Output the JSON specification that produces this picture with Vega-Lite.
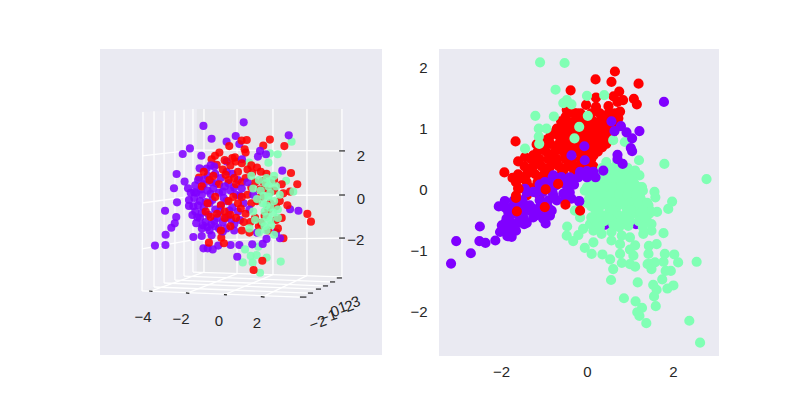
{"$schema":"https://vega.github.io/schema/vega-lite/v6.json","background":"#ffffff","padding":{"left":100,"top":49,"right":0,"bottom":0},"spacing":27,"config":{"view":{"stroke":null,"fill":"#eaeaf2"},"font":"Liberation Sans"},
"datasets":{
"left3d":[{"u":-0.82,"v":3.48,"c":"A"},{"u":1.3,"v":3.65,"c":"A"},{"u":-0.39,"v":2.87,"c":"A"},{"u":0.88,"v":3.0,"c":"A"},{"u":0.4,"v":2.73,"c":"A"},{"u":1.07,"v":2.62,"c":"A"},{"u":3.82,"v":2.73,"c":"B"},{"u":3.67,"v":3.03,"c":"A"},{"u":-1.53,"v":2.41,"c":"A"},{"u":-1.91,"v":2.14,"c":"A"},{"u":-0.93,"v":2.06,"c":"A"},{"u":0.54,"v":2.52,"c":"C"},{"u":1.19,"v":2.78,"c":"C"},{"u":1.46,"v":2.81,"c":"C"},{"u":2.68,"v":2.83,"c":"C"},{"u":2.33,"v":2.54,"c":"C"},{"u":3.44,"v":2.52,"c":"C"},{"u":1.35,"v":2.37,"c":"C"},{"u":1.4,"v":2.21,"c":"C"},{"u":0.02,"v":2.21,"c":"C"},{"u":-0.21,"v":2.06,"c":"C"},{"u":-0.39,"v":1.89,"c":"C"},{"u":0.84,"v":1.98,"c":"C"},{"u":0.88,"v":1.78,"c":"C"},{"u":-0.12,"v":1.63,"c":"C"},{"u":3.09,"v":2.13,"c":"B"},{"u":2.68,"v":2.17,"c":"B"},{"u":1.58,"v":1.73,"c":"B"},{"u":2.6,"v":1.73,"c":"B"},{"u":2.16,"v":2.29,"c":"A"},{"u":2.05,"v":2.02,"c":"A"},{"u":2.47,"v":2.13,"c":"A"},{"u":1.21,"v":1.89,"c":"A"},{"u":-0.44,"v":1.6,"c":"A"},{"u":-1.02,"v":1.46,"c":"A"},{"u":0.4,"v":1.78,"c":"A"},{"u":-2.23,"v":1.19,"c":"A"},{"u":-1.81,"v":0.83,"c":"A"},{"u":-2.37,"v":0.51,"c":"A"},{"u":-1.63,"v":0.51,"c":"A"},{"u":-1.49,"v":0.3,"c":"A"},{"u":-1.3,"v":0.32,"c":"A"},{"u":-2.21,"v":-0.16,"c":"A"},{"u":-1.58,"v":-0.05,"c":"A"},{"u":-1.58,"v":-0.33,"c":"A"},{"u":-2.84,"v":-0.56,"c":"A"},{"u":-2.25,"v":-0.86,"c":"A"},{"u":-2.33,"v":-1.16,"c":"A"},{"u":-2.51,"v":-1.37,"c":"A"},{"u":-2.81,"v":-1.7,"c":"A"},{"u":-3.37,"v":-2.22,"c":"A"},{"u":-2.82,"v":-2.19,"c":"A"},{"u":-1.35,"v":-1.81,"c":"A"},{"u":-0.91,"v":-1.76,"c":"A"},{"u":-0.39,"v":-1.73,"c":"A"},{"u":-0.82,"v":-2.35,"c":"A"},{"u":-0.6,"v":-2.35,"c":"A"},{"u":-0.33,"v":-2.4,"c":"A"},{"u":-0.04,"v":-2.22,"c":"A"},{"u":0.61,"v":-2.19,"c":"A"},{"u":1.07,"v":-2.19,"c":"A"},{"u":-1.4,"v":-0.76,"c":"A"},{"u":-1.14,"v":-0.87,"c":"A"},{"u":-1.05,"v":1.02,"c":"C"},{"u":3.79,"v":1.24,"c":"C"},{"u":4.12,"v":0.7,"c":"C"},{"u":3.74,"v":0.35,"c":"C"},{"u":3.39,"v":0.27,"c":"C"},{"u":4.65,"v":-0.71,"c":"C"},{"u":4.84,"v":-1.08,"c":"C"},{"u":3.39,"v":-1.87,"c":"C"},{"u":-0.53,"v":-2.08,"c":"C"},{"u":0.12,"v":-1.84,"c":"C"},{"u":0.26,"v":-2.11,"c":"C"},{"u":1.25,"v":-3.02,"c":"B"},{"u":1.77,"v":-3.02,"c":"B"},{"u":1.67,"v":-2.71,"c":"B"},{"u":1.37,"v":-2.4,"c":"B"},{"u":1.98,"v":-2.67,"c":"B"},{"u":2.51,"v":-2.79,"c":"B"},{"u":3.25,"v":-2.98,"c":"B"},{"u":2.16,"v":-3.51,"c":"B"},{"u":2.07,"v":-2.27,"c":"B"},{"u":3.53,"v":0.87,"c":"B"},{"u":3.91,"v":0.35,"c":"B"},{"u":2.28,"v":-2.94,"c":"C"},{"u":1.82,"v":-3.38,"c":"C"},{"u":0.96,"v":-2.75,"c":"A"},{"u":1.75,"v":-2.16,"c":"A"},{"u":2.3,"v":-2.14,"c":"A"},{"u":3.21,"v":-1.87,"c":"A"},{"u":3.74,"v":-0.49,"c":"A"},{"u":4.18,"v":-0.56,"c":"A"},{"u":3.33,"v":1.35,"c":"A"},
{"u":-1.1,"v":0.9,"c":"A"},{"u":-0.8,"v":0.7,"c":"A"},{"u":-0.6,"v":1.1,"c":"A"},{"u":-0.4,"v":0.8,"c":"A"},{"u":-0.2,"v":1.2,"c":"A"},{"u":0.1,"v":1.0,"c":"A"},{"u":0.4,"v":1.3,"c":"A"},{"u":0.7,"v":1.2,"c":"A"},{"u":1.0,"v":0.9,"c":"A"},{"u":-1.25,"v":0.65,"c":"A"},{"u":-0.95,"v":0.45,"c":"A"},{"u":-0.75,"v":0.95,"c":"A"},{"u":-0.45,"v":0.25,"c":"A"},{"u":-0.15,"v":0.75,"c":"A"},{"u":0.2,"v":0.35,"c":"A"},{"u":0.5,"v":0.75,"c":"A"},{"u":0.8,"v":0.55,"c":"A"},{"u":1.1,"v":0.15,"c":"A"},{"u":-0.65,"v":1.45,"c":"A"},{"u":-0.25,"v":1.55,"c":"A"},{"u":-0.8,"v":1.3,"c":"C"},{"u":-0.3,"v":1.1,"c":"C"},{"u":0.2,"v":1.4,"c":"C"},{"u":0.6,"v":1.6,"c":"C"},{"u":1.0,"v":1.3,"c":"C"},{"u":1.5,"v":1.4,"c":"C"},{"u":2.0,"v":1.5,"c":"C"},{"u":2.5,"v":1.2,"c":"C"},{"u":2.9,"v":0.9,"c":"C"},{"u":0.3,"v":1.85,"c":"C"},{"u":0.7,"v":1.95,"c":"C"},{"u":1.2,"v":1.7,"c":"C"},{"u":1.7,"v":1.6,"c":"C"},{"u":2.2,"v":1.3,"c":"C"},{"u":0.35,"v":1.15,"c":"C"},{"u":0.8,"v":1.0,"c":"C"},{"u":1.75,"v":1.25,"c":"C"},{"u":2.3,"v":0.85,"c":"C"},{"u":-0.9,"v":0.6,"c":"C"},{"u":-0.5,"v":0.9,"c":"C"},{"u":0.0,"v":0.7,"c":"C"},{"u":0.5,"v":0.9,"c":"C"},{"u":0.9,"v":0.7,"c":"C"},{"u":1.4,"v":1.0,"c":"C"},{"u":1.9,"v":0.8,"c":"C"},{"u":2.4,"v":0.5,"c":"C"},{"u":2.9,"v":0.4,"c":"C"},{"u":3.3,"v":0.7,"c":"C"},{"u":1.2,"v":0.8,"c":"C"},{"u":1.7,"v":0.55,"c":"C"},{"u":2.15,"v":0.45,"c":"C"},{"u":2.7,"v":0.35,"c":"C"},{"u":-1.2,"v":0.3,"c":"A"},{"u":-0.9,"v":0.2,"c":"A"},{"u":-0.6,"v":0.4,"c":"A"},{"u":-0.3,"v":0.5,"c":"A"},{"u":0.0,"v":0.3,"c":"A"},{"u":0.3,"v":0.6,"c":"A"},{"u":0.6,"v":0.4,"c":"A"},{"u":0.9,"v":0.2,"c":"A"},{"u":1.2,"v":0.5,"c":"A"},{"u":-1.1,"v":-0.3,"c":"A"},{"u":-0.8,"v":-0.4,"c":"A"},{"u":-0.5,"v":-0.2,"c":"A"},{"u":-0.2,"v":-0.5,"c":"A"},{"u":0.1,"v":-0.3,"c":"A"},{"u":0.4,"v":-0.1,"c":"A"},{"u":0.7,"v":-0.4,"c":"A"},{"u":1.0,"v":-0.6,"c":"A"},{"u":1.3,"v":-0.2,"c":"A"},{"u":-1.0,"v":-0.1,"c":"A"},{"u":-0.7,"v":-0.15,"c":"A"},{"u":-0.35,"v":-0.05,"c":"A"},{"u":0.25,"v":0.05,"c":"A"},{"u":0.55,"v":-0.55,"c":"A"},{"u":-1.3,"v":0.05,"c":"A"},{"u":-1.35,"v":-0.35,"c":"A"},{"u":-0.6,"v":-0.2,"c":"C"},{"u":-0.2,"v":0.1,"c":"C"},{"u":0.1,"v":-0.3,"c":"C"},{"u":0.5,"v":-0.1,"c":"C"},{"u":1.0,"v":-0.2,"c":"C"},{"u":1.5,"v":0.2,"c":"C"},{"u":2.0,"v":-0.1,"c":"C"},{"u":2.7,"v":-0.2,"c":"C"},{"u":3.2,"v":-0.1,"c":"C"},{"u":3.6,"v":-0.3,"c":"C"},{"u":0.75,"v":0.1,"c":"C"},{"u":1.2,"v":0.1,"c":"C"},{"u":1.7,"v":-0.2,"c":"C"},{"u":2.2,"v":0.1,"c":"C"},{"u":2.6,"v":-0.5,"c":"C"},{"u":3.0,"v":-0.35,"c":"C"},{"u":-1.0,"v":-0.9,"c":"A"},{"u":-0.7,"v":-1.1,"c":"A"},{"u":-0.4,"v":-1.2,"c":"A"},{"u":-0.1,"v":-0.9,"c":"A"},{"u":0.2,"v":-1.1,"c":"A"},{"u":0.5,"v":-0.8,"c":"A"},{"u":0.8,"v":-1.2,"c":"A"},{"u":1.1,"v":-1.0,"c":"A"},{"u":1.6,"v":-0.5,"c":"A"},{"u":-1.25,"v":-0.6,"c":"A"},{"u":-0.9,"v":-0.65,"c":"A"},{"u":-0.55,"v":-0.75,"c":"A"},{"u":-0.25,"v":-1.05,"c":"A"},{"u":0.05,"v":-0.6,"c":"A"},{"u":0.35,"v":-0.9,"c":"A"},{"u":0.65,"v":-1.0,"c":"A"},{"u":-1.2,"v":-1.15,"c":"A"},{"u":-0.85,"v":-1.25,"c":"A"},{"u":-0.6,"v":-1.35,"c":"A"},{"u":-0.2,"v":-1.3,"c":"A"},{"u":0.2,"v":-1.55,"c":"A"},{"u":-0.7,"v":-0.6,"c":"C"},{"u":-0.1,"v":-0.7,"c":"C"},{"u":0.3,"v":-0.6,"c":"C"},{"u":0.9,"v":-0.9,"c":"C"},{"u":1.4,"v":-0.7,"c":"C"},{"u":1.9,"v":-0.9,"c":"C"},{"u":2.4,"v":-0.8,"c":"C"},{"u":3.0,"v":-1.0,"c":"C"},{"u":3.3,"v":-0.9,"c":"C"},{"u":0.6,"v":-0.75,"c":"C"},{"u":1.15,"v":-0.45,"c":"C"},{"u":1.65,"v":-1.1,"c":"C"},{"u":2.2,"v":-1.15,"c":"C"},{"u":-0.45,"v":-0.85,"c":"C"},{"u":0.3,"v":-0.9,"c":"C"},{"u":-0.9,"v":-1.4,"c":"A"},{"u":-0.5,"v":-1.5,"c":"A"},{"u":0.0,"v":-1.4,"c":"A"},{"u":0.4,"v":-1.4,"c":"A"},{"u":0.8,"v":-1.5,"c":"A"},{"u":1.5,"v":0.8,"c":"A"},{"u":1.8,"v":0.2,"c":"A"},{"u":2.0,"v":-1.6,"c":"A"},{"u":2.5,"v":-1.9,"c":"A"},{"u":3.0,"v":-1.6,"c":"A"},{"u":0.6,"v":-1.3,"c":"C"},{"u":1.2,"v":-1.5,"c":"C"},{"u":1.6,"v":-1.6,"c":"C"},{"u":2.1,"v":-1.3,"c":"C"},{"u":2.6,"v":-1.5,"c":"C"},{"u":3.1,"v":-1.4,"c":"C"},{"u":1.3,"v":-1.1,"c":"C"},{"u":0.1,"v":-1.5,"c":"C"},{"u":1.7,"v":1.1,"c":"B"},{"u":2.1,"v":0.9,"c":"B"},{"u":2.5,"v":1.0,"c":"B"},{"u":2.9,"v":1.1,"c":"B"},{"u":3.2,"v":0.2,"c":"B"},{"u":1.8,"v":0.5,"c":"B"},{"u":2.2,"v":0.4,"c":"B"},{"u":2.6,"v":0.6,"c":"B"},{"u":3.0,"v":0.6,"c":"B"},{"u":2.0,"v":0.0,"c":"B"},{"u":2.3,"v":-0.2,"c":"B"},{"u":2.6,"v":0.1,"c":"B"},{"u":2.9,"v":-0.1,"c":"B"},{"u":2.7,"v":-0.4,"c":"B"},{"u":3.1,"v":-0.5,"c":"B"},{"u":2.4,"v":-0.6,"c":"B"},{"u":1.9,"v":-1.0,"c":"B"},{"u":2.3,"v":-1.1,"c":"B"},{"u":2.7,"v":-1.0,"c":"B"},{"u":3.1,"v":-0.9,"c":"B"},{"u":2.5,"v":-1.5,"c":"B"},{"u":2.1,"v":-1.6,"c":"B"},{"u":1.6,"v":-1.4,"c":"B"},{"u":2.9,"v":-1.7,"c":"B"},{"u":2.45,"v":0.75,"c":"B"},{"u":2.75,"v":0.85,"c":"B"},{"u":2.35,"v":0.15,"c":"B"},{"u":2.7,"v":0.3,"c":"B"},{"u":2.5,"v":-0.3,"c":"B"},{"u":2.85,"v":-0.65,"c":"B"},{"u":2.5,"v":-0.85,"c":"B"},{"u":2.75,"v":-1.25,"c":"B"},{"u":2.4,"v":-1.3,"c":"B"},{"u":1.8,"v":-0.6,"c":"B"}],
"right2d":[{"x":0.43,"y":-0.58,"c":"A"},{"x":1.14,"y":-0.57,"c":"A"},
{"x":-0.45,"y":1.25,"c":"C"},{"x":-0.3,"y":1.25,"c":"C"},{"x":-0.15,"y":1.25,"c":"C"},{"x":0.1,"y":1.25,"c":"C"},{"x":0.3,"y":1.25,"c":"C"},{"x":0.5,"y":1.25,"c":"C"},{"x":0.65,"y":1.25,"c":"C"},{"x":-0.6,"y":1.12,"c":"C"},{"x":-0.45,"y":1.12,"c":"C"},{"x":-0.3,"y":1.12,"c":"C"},{"x":-0.15,"y":1.12,"c":"C"},{"x":0.0,"y":1.12,"c":"C"},{"x":0.15,"y":1.12,"c":"C"},{"x":0.3,"y":1.12,"c":"C"},{"x":0.45,"y":1.12,"c":"C"},{"x":0.6,"y":1.12,"c":"C"},{"x":-0.7,"y":1.0,"c":"C"},{"x":-0.55,"y":1.0,"c":"C"},{"x":-0.4,"y":1.0,"c":"C"},{"x":-0.25,"y":1.0,"c":"C"},{"x":0.05,"y":1.0,"c":"C"},{"x":0.2,"y":1.0,"c":"C"},{"x":0.35,"y":1.0,"c":"C"},{"x":0.5,"y":1.0,"c":"C"},{"x":0.65,"y":1.0,"c":"C"},{"x":-0.85,"y":0.88,"c":"C"},{"x":-0.65,"y":0.88,"c":"C"},{"x":-0.5,"y":0.88,"c":"C"},{"x":-0.35,"y":0.88,"c":"C"},{"x":-0.05,"y":0.88,"c":"C"},{"x":0.1,"y":0.88,"c":"C"},{"x":0.25,"y":0.88,"c":"C"},{"x":0.4,"y":0.88,"c":"C"},{"x":0.55,"y":0.88,"c":"C"},{"x":-1.05,"y":0.75,"c":"C"},{"x":-0.85,"y":0.75,"c":"C"},{"x":-0.65,"y":0.75,"c":"C"},{"x":-0.5,"y":0.75,"c":"C"},{"x":-0.35,"y":0.75,"c":"C"},{"x":-0.15,"y":0.75,"c":"C"},{"x":0.0,"y":0.75,"c":"C"},{"x":0.15,"y":0.75,"c":"C"},{"x":0.3,"y":0.75,"c":"C"},{"x":0.45,"y":0.75,"c":"C"},{"x":-1.15,"y":0.62,"c":"C"},{"x":-0.95,"y":0.62,"c":"C"},{"x":-0.75,"y":0.62,"c":"C"},{"x":-0.55,"y":0.62,"c":"C"},{"x":-0.4,"y":0.62,"c":"C"},{"x":-0.2,"y":0.62,"c":"C"},{"x":0.05,"y":0.62,"c":"C"},{"x":0.25,"y":0.62,"c":"C"},{"x":-1.3,"y":0.5,"c":"C"},{"x":-1.1,"y":0.5,"c":"C"},{"x":-0.9,"y":0.5,"c":"C"},{"x":-0.7,"y":0.5,"c":"C"},{"x":-0.5,"y":0.5,"c":"C"},{"x":-0.35,"y":0.5,"c":"C"},{"x":-0.15,"y":0.5,"c":"C"},{"x":0.1,"y":0.5,"c":"C"},{"x":-1.45,"y":0.38,"c":"C"},{"x":-1.25,"y":0.38,"c":"C"},{"x":-1.05,"y":0.38,"c":"C"},{"x":-0.85,"y":0.38,"c":"C"},{"x":-0.65,"y":0.38,"c":"C"},{"x":-0.45,"y":0.38,"c":"C"},{"x":-0.25,"y":0.38,"c":"C"},{"x":-0.05,"y":0.38,"c":"C"},{"x":0.15,"y":0.38,"c":"C"},{"x":-1.6,"y":0.25,"c":"C"},{"x":-1.4,"y":0.25,"c":"C"},{"x":-1.2,"y":0.25,"c":"C"},{"x":-1.0,"y":0.25,"c":"C"},{"x":-0.85,"y":0.25,"c":"C"},{"x":-0.6,"y":0.25,"c":"C"},{"x":-1.65,"y":0.12,"c":"C"},{"x":-1.4,"y":0.12,"c":"C"},{"x":-1.15,"y":0.12,"c":"C"},{"x":-0.9,"y":0.12,"c":"C"},{"x":-0.7,"y":0.12,"c":"C"},{"x":-1.6,"y":0.02,"c":"C"},{"x":-1.3,"y":0.02,"c":"C"},{"x":-1.65,"y":-0.1,"c":"C"},{"x":-1.4,"y":-0.1,"c":"C"},{"x":-1.1,"y":-0.1,"c":"C"},{"x":-0.5,"y":1.19,"c":"C"},{"x":-0.2,"y":1.19,"c":"C"},{"x":0.05,"y":1.19,"c":"C"},{"x":0.4,"y":1.19,"c":"C"},{"x":0.55,"y":1.19,"c":"C"},{"x":-0.5,"y":1.06,"c":"C"},{"x":-0.1,"y":1.06,"c":"C"},{"x":0.25,"y":1.06,"c":"C"},{"x":0.55,"y":1.06,"c":"C"},{"x":-0.75,"y":0.94,"c":"C"},{"x":-0.45,"y":0.94,"c":"C"},{"x":-0.15,"y":0.94,"c":"C"},{"x":0.3,"y":0.94,"c":"C"},{"x":0.6,"y":0.94,"c":"C"},{"x":-0.95,"y":0.81,"c":"C"},{"x":-0.55,"y":0.81,"c":"C"},{"x":-0.2,"y":0.81,"c":"C"},{"x":0.2,"y":0.81,"c":"C"},{"x":0.5,"y":0.81,"c":"C"},{"x":-1.0,"y":0.69,"c":"C"},{"x":-0.7,"y":0.69,"c":"C"},{"x":-0.25,"y":0.69,"c":"C"},{"x":0.1,"y":0.69,"c":"C"},{"x":0.35,"y":0.69,"c":"C"},{"x":-1.25,"y":0.56,"c":"C"},{"x":-0.85,"y":0.56,"c":"C"},{"x":-0.5,"y":0.56,"c":"C"},{"x":-0.1,"y":0.56,"c":"C"},{"x":0.15,"y":0.56,"c":"C"},{"x":-1.2,"y":0.44,"c":"C"},{"x":-0.8,"y":0.44,"c":"C"},{"x":-0.4,"y":0.44,"c":"C"},{"x":0.0,"y":0.44,"c":"C"},{"x":-1.35,"y":0.31,"c":"C"},{"x":-0.95,"y":0.31,"c":"C"},{"x":-0.55,"y":0.31,"c":"C"},{"x":-0.3,"y":0.31,"c":"C"},{"x":-1.55,"y":0.18,"c":"C"},{"x":-1.05,"y":0.18,"c":"C"},{"x":-0.8,"y":0.18,"c":"C"},{"x":0.65,"y":1.94,"c":"C"},{"x":0.2,"y":1.81,"c":"C"},{"x":0.57,"y":1.77,"c":"C"},{"x":1.2,"y":1.74,"c":"C"},{"x":-0.38,"y":1.63,"c":"C"},{"x":0.75,"y":1.61,"c":"C"},{"x":0.21,"y":1.51,"c":"C"},{"x":0.62,"y":1.53,"c":"C"},{"x":1.09,"y":1.49,"c":"C"},{"x":0.84,"y":1.47,"c":"C"},{"x":1.16,"y":1.4,"c":"C"},{"x":0.71,"y":1.44,"c":"C"},{"x":-0.02,"y":1.39,"c":"C"},{"x":0.5,"y":1.37,"c":"C"},{"x":0.21,"y":1.36,"c":"C"},{"x":0.77,"y":1.28,"c":"C"},{"x":0.73,"y":1.17,"c":"C"},{"x":-0.47,"y":1.31,"c":"C"},{"x":-0.24,"y":1.25,"c":"C"},{"x":-1.66,"y":0.79,"c":"C"},{"x":-1.17,"y":0.74,"c":"C"},{"x":-1.6,"y":0.46,"c":"C"},{"x":-1.44,"y":0.53,"c":"C"},{"x":-1.92,"y":0.28,"c":"C"},{"x":-1.73,"y":0.19,"c":"C"},
{"x":-1.09,"y":2.09,"c":"B"},{"x":-0.52,"y":2.08,"c":"B"},{"x":-0.73,"y":1.64,"c":"B"},{"x":0.0,"y":1.54,"c":"B"},{"x":0.4,"y":1.55,"c":"B"},{"x":-0.47,"y":1.47,"c":"B"},{"x":-0.55,"y":1.42,"c":"B"},{"x":-0.36,"y":1.4,"c":"B"},{"x":-1.2,"y":1.21,"c":"B"},{"x":-0.77,"y":1.2,"c":"B"},{"x":0.02,"y":1.21,"c":"B"},{"x":-1.12,"y":1.0,"c":"B"},{"x":-0.94,"y":1.0,"c":"B"},{"x":-1.12,"y":0.87,"c":"B"},{"x":-1.11,"y":0.75,"c":"B"},{"x":-1.44,"y":0.67,"c":"B"},{"x":-0.18,"y":1.03,"c":"B"},{"x":-0.29,"y":0.84,"c":"B"},{"x":0.61,"y":0.81,"c":"B"},{"x":0.88,"y":0.78,"c":"B"},{"x":1.8,"y":0.42,"c":"B"},{"x":2.78,"y":0.17,"c":"B"},{"x":1.21,"y":0.48,"c":"B"},{"x":1.57,"y":-0.04,"c":"B"},{"x":1.59,"y":-0.13,"c":"B"},{"x":1.98,"y":-0.2,"c":"B"},{"x":1.89,"y":-0.32,"c":"B"},{"x":1.63,"y":-0.37,"c":"B"},{"x":1.28,"y":0.04,"c":"B"},{"x":1.22,"y":0.23,"c":"B"},{"x":1.12,"y":0.31,"c":"B"},{"x":1.43,"y":-0.26,"c":"B"},{"x":1.23,"y":-0.1,"c":"B"},{"x":1.17,"y":-0.37,"c":"B"},{"x":-0.46,"y":-0.61,"c":"B"},{"x":-0.47,"y":-0.76,"c":"B"},{"x":-0.32,"y":-0.85,"c":"B"},{"x":-0.2,"y":-0.75,"c":"B"},{"x":-0.09,"y":-0.65,"c":"B"},{"x":-0.28,"y":-0.35,"c":"B"},{"x":-0.16,"y":-0.46,"c":"B"},{"x":-0.05,"y":-0.96,"c":"B"},{"x":0.11,"y":-1.06,"c":"B"},{"x":0.36,"y":-1.07,"c":"B"},{"x":0.54,"y":-1.15,"c":"B"},{"x":0.61,"y":-1.31,"c":"B"},{"x":0.56,"y":-1.49,"c":"B"},{"x":0.86,"y":-1.79,"c":"B"},{"x":1.13,"y":-1.84,"c":"B"},{"x":1.28,"y":-1.95,"c":"B"},{"x":1.17,"y":-2.02,"c":"B"},{"x":1.22,"y":-2.08,"c":"B"},{"x":1.38,"y":-2.2,"c":"B"},{"x":1.18,"y":-1.53,"c":"B"},{"x":1.54,"y":-1.57,"c":"B"},{"x":1.62,"y":-1.65,"c":"B"},{"x":1.56,"y":-1.76,"c":"B"},{"x":1.6,"y":-1.92,"c":"B"},{"x":1.75,"y":-1.48,"c":"B"},{"x":1.87,"y":-1.63,"c":"B"},{"x":2.01,"y":-1.58,"c":"B"},{"x":1.83,"y":-1.34,"c":"B"},{"x":1.95,"y":-1.34,"c":"B"},{"x":1.78,"y":-1.19,"c":"B"},{"x":1.81,"y":-1.06,"c":"B"},{"x":2.03,"y":-1.07,"c":"B"},{"x":2.12,"y":-1.2,"c":"B"},{"x":2.55,"y":-1.19,"c":"B"},{"x":2.38,"y":-2.16,"c":"B"},{"x":2.63,"y":-2.52,"c":"B"},{"x":1.78,"y":-0.72,"c":"B"},{"x":1.47,"y":-1.23,"c":"B"},{"x":1.58,"y":-1.2,"c":"B"},{"x":1.43,"y":-1.06,"c":"B"},{"x":1.62,"y":-0.9,"c":"B"},{"x":1.44,"y":-0.93,"c":"B"},{"x":1.41,"y":-1.23,"c":"B"},{"x":1.5,"y":-1.31,"c":"B"},{"x":1.12,"y":-1.27,"c":"B"},{"x":1.0,"y":-1.23,"c":"B"},{"x":0.81,"y":-1.21,"c":"B"},{"x":0.77,"y":-1.06,"c":"B"},{"x":1.08,"y":-1.09,"c":"B"},{"x":1.0,"y":-0.99,"c":"B"},{"x":1.12,"y":-0.92,"c":"B"},{"x":0.77,"y":-0.9,"c":"B"},{"x":0.57,"y":-0.84,"c":"B"},{"x":0.15,"y":-0.87,"c":"B"},{"x":0.34,"y":-0.73,"c":"B"},{"x":0.15,"y":-0.68,"c":"B"},{"x":0.07,"y":-0.57,"c":"B"},{"x":0.19,"y":-0.48,"c":"B"},{"x":0.42,"y":-0.43,"c":"B"},{"x":0.73,"y":-0.46,"c":"B"},{"x":1.16,"y":-0.4,"c":"B"},{"x":1.5,"y":-0.57,"c":"B"},{"x":1.5,"y":-0.68,"c":"B"},{"x":1.31,"y":-0.73,"c":"B"},{"x":1.0,"y":-0.79,"c":"B"},{"x":0.81,"y":-0.76,"c":"B"},{"x":0.57,"y":-0.7,"c":"B"},{"x":0.96,"y":-0.6,"c":"B"},{"x":1.47,"y":-0.35,"c":"B"},{"x":0.61,"y":-0.57,"c":"B"},
{"x":0.45,"y":0.45,"c":"B"},{"x":0.7,"y":0.45,"c":"B"},{"x":0.35,"y":0.35,"c":"B"},{"x":0.55,"y":0.35,"c":"B"},{"x":0.75,"y":0.35,"c":"B"},{"x":0.95,"y":0.35,"c":"B"},{"x":0.3,"y":0.22,"c":"B"},{"x":0.5,"y":0.22,"c":"B"},{"x":0.7,"y":0.22,"c":"B"},{"x":0.9,"y":0.22,"c":"B"},{"x":1.05,"y":0.22,"c":"B"},{"x":0.1,"y":0.1,"c":"B"},{"x":0.3,"y":0.1,"c":"B"},{"x":0.5,"y":0.1,"c":"B"},{"x":0.7,"y":0.1,"c":"B"},{"x":0.9,"y":0.1,"c":"B"},{"x":1.1,"y":0.1,"c":"B"},{"x":-0.05,"y":-0.02,"c":"B"},{"x":0.15,"y":-0.02,"c":"B"},{"x":0.35,"y":-0.02,"c":"B"},{"x":0.55,"y":-0.02,"c":"B"},{"x":0.75,"y":-0.02,"c":"B"},{"x":0.95,"y":-0.02,"c":"B"},{"x":1.15,"y":-0.02,"c":"B"},{"x":1.3,"y":-0.02,"c":"B"},{"x":0.05,"y":-0.15,"c":"B"},{"x":0.25,"y":-0.15,"c":"B"},{"x":0.45,"y":-0.15,"c":"B"},{"x":0.65,"y":-0.15,"c":"B"},{"x":0.85,"y":-0.15,"c":"B"},{"x":1.05,"y":-0.15,"c":"B"},{"x":1.25,"y":-0.15,"c":"B"},{"x":0.1,"y":-0.28,"c":"B"},{"x":0.3,"y":-0.28,"c":"B"},{"x":0.5,"y":-0.28,"c":"B"},{"x":0.7,"y":-0.28,"c":"B"},{"x":0.9,"y":-0.28,"c":"B"},{"x":1.1,"y":-0.28,"c":"B"},{"x":1.3,"y":-0.28,"c":"B"},{"x":0.3,"y":-0.4,"c":"B"},{"x":0.5,"y":-0.4,"c":"B"},{"x":0.7,"y":-0.4,"c":"B"},{"x":0.9,"y":-0.4,"c":"B"},{"x":1.05,"y":-0.4,"c":"B"},{"x":1.25,"y":-0.4,"c":"B"},{"x":1.45,"y":-0.4,"c":"B"},{"x":0.2,"y":-0.52,"c":"B"},{"x":0.4,"y":-0.52,"c":"B"},{"x":0.6,"y":-0.52,"c":"B"},{"x":0.8,"y":-0.52,"c":"B"},{"x":1.0,"y":-0.52,"c":"B"},{"x":1.2,"y":-0.52,"c":"B"},{"x":1.4,"y":-0.52,"c":"B"},{"x":0.45,"y":0.29,"c":"B"},{"x":0.65,"y":0.29,"c":"B"},{"x":0.85,"y":0.29,"c":"B"},{"x":0.2,"y":0.16,"c":"B"},{"x":0.4,"y":0.16,"c":"B"},{"x":0.6,"y":0.16,"c":"B"},{"x":0.8,"y":0.16,"c":"B"},{"x":1.0,"y":0.16,"c":"B"},{"x":0.0,"y":0.04,"c":"B"},{"x":0.2,"y":0.04,"c":"B"},{"x":0.4,"y":0.04,"c":"B"},{"x":0.6,"y":0.04,"c":"B"},{"x":0.8,"y":0.04,"c":"B"},{"x":1.0,"y":0.04,"c":"B"},{"x":1.2,"y":0.04,"c":"B"},{"x":0.15,"y":-0.09,"c":"B"},{"x":0.35,"y":-0.09,"c":"B"},{"x":0.55,"y":-0.09,"c":"B"},{"x":0.75,"y":-0.09,"c":"B"},{"x":0.95,"y":-0.09,"c":"B"},{"x":1.15,"y":-0.09,"c":"B"},{"x":0.0,"y":-0.22,"c":"B"},{"x":0.2,"y":-0.22,"c":"B"},{"x":0.4,"y":-0.22,"c":"B"},{"x":0.6,"y":-0.22,"c":"B"},{"x":0.8,"y":-0.22,"c":"B"},{"x":1.0,"y":-0.22,"c":"B"},{"x":1.2,"y":-0.22,"c":"B"},{"x":1.4,"y":-0.22,"c":"B"},{"x":0.2,"y":-0.34,"c":"B"},{"x":0.6,"y":-0.34,"c":"B"},{"x":1.0,"y":-0.34,"c":"B"},{"x":1.3,"y":-0.34,"c":"B"},{"x":0.1,"y":-0.46,"c":"B"},{"x":0.5,"y":-0.46,"c":"B"},{"x":0.9,"y":-0.46,"c":"B"},{"x":1.35,"y":-0.46,"c":"B"},{"x":0.3,"y":-0.62,"c":"B"},{"x":0.75,"y":-0.62,"c":"B"},{"x":1.3,"y":-0.62,"c":"B"},
{"x":1.79,"y":1.44,"c":"A"},{"x":0.57,"y":1.12,"c":"A"},{"x":0.79,"y":1.04,"c":"A"},{"x":0.64,"y":0.96,"c":"A"},{"x":0.92,"y":0.94,"c":"A"},{"x":1.22,"y":0.96,"c":"A"},{"x":1.05,"y":0.84,"c":"A"},{"x":1.02,"y":0.68,"c":"A"},{"x":1.05,"y":0.63,"c":"A"},{"x":-0.06,"y":0.71,"c":"A"},{"x":0.71,"y":0.57,"c":"A"},{"x":0.71,"y":0.5,"c":"A"},{"x":0.83,"y":0.42,"c":"A"},{"x":-0.36,"y":0.56,"c":"A"},{"x":-0.05,"y":0.48,"c":"A"},{"x":-0.78,"y":0.23,"c":"A"},{"x":-0.59,"y":0.2,"c":"A"},{"x":-0.4,"y":0.2,"c":"A"},{"x":-0.16,"y":0.29,"c":"A"},{"x":0.15,"y":0.29,"c":"A"},{"x":0.0,"y":0.3,"c":"A"},{"x":0.38,"y":0.31,"c":"A"},{"x":-0.98,"y":0.12,"c":"A"},{"x":-0.71,"y":0.07,"c":"A"},{"x":-0.4,"y":0.07,"c":"A"},{"x":-1.44,"y":0.01,"c":"A"},{"x":-1.25,"y":-0.04,"c":"A"},{"x":-1.02,"y":-0.04,"c":"A"},{"x":-0.78,"y":-0.1,"c":"A"},{"x":-0.55,"y":-0.07,"c":"A"},{"x":-0.18,"y":-0.19,"c":"A"},{"x":-0.36,"y":-0.15,"c":"A"},{"x":-1.91,"y":-0.19,"c":"A"},{"x":-2.05,"y":-0.28,"c":"A"},{"x":-1.71,"y":-0.26,"c":"A"},{"x":-1.52,"y":-0.21,"c":"A"},{"x":-1.33,"y":-0.26,"c":"A"},{"x":-1.48,"y":-0.35,"c":"A"},{"x":-1.25,"y":-0.32,"c":"A"},{"x":-1.02,"y":-0.35,"c":"A"},{"x":-0.82,"y":-0.35,"c":"A"},{"x":-0.86,"y":-0.43,"c":"A"},{"x":-1.83,"y":-0.37,"c":"A"},{"x":-2.49,"y":-0.61,"c":"A"},{"x":-3.04,"y":-0.85,"c":"A"},{"x":-2.5,"y":-0.85,"c":"A"},{"x":-2.36,"y":-0.88,"c":"A"},{"x":-2.13,"y":-0.84,"c":"A"},{"x":-2.7,"y":-1.05,"c":"A"},{"x":-3.16,"y":-1.22,"c":"A"},{"x":-1.87,"y":-0.48,"c":"A"},{"x":-1.98,"y":-0.59,"c":"A"},{"x":-2.02,"y":-0.7,"c":"A"},{"x":-1.85,"y":-0.77,"c":"A"},{"x":-1.75,"y":-0.78,"c":"A"},{"x":-1.65,"y":-0.68,"c":"A"},{"x":-1.83,"y":-0.62,"c":"A"},{"x":-1.46,"y":-0.57,"c":"A"},{"x":-0.96,"y":-0.56,"c":"A"},{"x":-1.48,"y":-0.46,"c":"A"},{"x":-1.25,"y":-0.46,"c":"A"},{"x":-1.02,"y":-0.48,"c":"A"},{"x":-0.86,"y":-0.37,"c":"A"},{"x":-1.33,"y":-0.35,"c":"A"},{"x":-1.71,"y":-0.4,"c":"A"},{"x":-0.18,"y":-0.2,"c":"A"},{"x":-0.8,"y":0.2,"c":"A"},{"x":-0.6,"y":0.2,"c":"A"},{"x":-0.2,"y":0.2,"c":"A"},{"x":0.0,"y":0.2,"c":"A"},{"x":0.2,"y":0.2,"c":"A"},{"x":-1.1,"y":0.08,"c":"A"},{"x":-0.9,"y":0.08,"c":"A"},{"x":-0.5,"y":0.08,"c":"A"},{"x":-0.3,"y":0.08,"c":"A"},{"x":-1.4,"y":-0.05,"c":"A"},{"x":-1.2,"y":-0.05,"c":"A"},{"x":-0.8,"y":-0.05,"c":"A"},{"x":-0.4,"y":-0.05,"c":"A"},{"x":-1.7,"y":-0.18,"c":"A"},{"x":-1.5,"y":-0.18,"c":"A"},{"x":-1.1,"y":-0.18,"c":"A"},{"x":-0.9,"y":-0.18,"c":"A"},{"x":-0.7,"y":-0.18,"c":"A"},{"x":-0.5,"y":-0.18,"c":"A"},{"x":-1.9,"y":-0.3,"c":"A"},{"x":-1.5,"y":-0.3,"c":"A"},{"x":-1.1,"y":-0.3,"c":"A"},{"x":-0.9,"y":-0.3,"c":"A"},{"x":-1.6,"y":-0.42,"c":"A"},{"x":-1.15,"y":-0.42,"c":"A"},{"x":-1.9,"y":-0.55,"c":"A"},{"x":-1.75,"y":-0.55,"c":"A"},{"x":-1.6,"y":-0.55,"c":"A"},{"x":-1.4,"y":-0.55,"c":"A"},{"x":-1.95,"y":-0.68,"c":"A"},{"x":-1.8,"y":-0.68,"c":"A"},
{"x":-0.67,"y":0.09,"c":"C"},{"x":-1.59,"y":0.01,"c":"C"},{"x":-0.96,"y":0.0,"c":"C"},{"x":-1.65,"y":-0.14,"c":"C"},{"x":-0.98,"y":-0.29,"c":"C"},{"x":-0.5,"y":-0.25,"c":"C"},{"x":-0.16,"y":-0.35,"c":"C"},{"x":-1.63,"y":-0.36,"c":"C"}],
"panes":[{"p":"left","u":-4.05,"t":4.14,"b":-4.38},{"p":"left","u":-1.16,"t":4.29,"b":-3.48},{"p":"back","u":-1.16,"t":4.29,"b":-3.48},{"p":"back","u":6.47,"t":4.29,"b":-3.71},{"p":"floor","u":-4.05,"t":-4.38,"b":-4.38},{"p":"floor","u":-1.16,"t":-3.48,"b":-4.48},{"p":"floor","u":4.26,"t":-3.62,"b":-4.67},{"p":"floor","u":6.47,"t":-3.71,"b":-3.71}],
"wires":[
{"a":-4.0,"b":4.14,"a2":-4.05,"b2":-4.38},{"a":-3.42,"b":4.18,"a2":-3.42,"b2":-4.19},{"a":-2.89,"b":4.2,"a2":-2.89,"b2":-4.0},{"a":-2.32,"b":4.22,"a2":-2.32,"b2":-3.86},{"a":-1.84,"b":4.25,"a2":-1.84,"b2":-3.67},{"a":-1.37,"b":4.29,"a2":-1.37,"b2":-3.48},
{"a":-0.79,"b":4.29,"a2":-0.79,"b2":-3.48},{"a":0.95,"b":4.29,"a2":0.95,"b2":-3.55},{"a":2.84,"b":4.29,"a2":2.84,"b2":-3.6},{"a":4.63,"b":4.29,"a2":4.63,"b2":-3.65},{"a":6.47,"b":4.29,"a2":6.47,"b2":-3.71},
{"a":-4.05,"b":2.05,"a2":-1.37,"b2":2.33},{"a":-1.37,"b":2.33,"a2":6.47,"b2":2.29},{"a":-4.05,"b":-0.19,"a2":-1.37,"b2":0.14},{"a":-1.37,"b":0.14,"a2":6.47,"b2":0.19},{"a":-4.05,"b":-2.38,"a2":-1.37,"b2":-1.95},{"a":-1.37,"b":-1.95,"a2":6.47,"b2":-1.86},
{"a":-4.05,"b":-4.38,"a2":4.26,"b2":-4.67},{"a":-3.42,"b":-4.19,"a2":4.68,"b2":-4.48},{"a":-2.89,"b":-4.0,"a2":5.1,"b2":-4.29},{"a":-2.32,"b":-3.86,"a2":5.47,"b2":-4.14},{"a":-1.84,"b":-3.67,"a2":5.84,"b2":-3.95},{"a":-1.37,"b":-3.48,"a2":6.47,"b2":-3.71},
{"a":-3.63,"b":-4.4,"a2":-0.79,"b2":-3.48},{"a":-1.68,"b":-4.48,"a2":0.95,"b2":-3.55},{"a":0.26,"b":-4.57,"a2":2.84,"b2":-3.6},{"a":2.26,"b":-4.67,"a2":4.63,"b2":-3.65}],
"ticks":[{"a":6.32,"b":2.29,"a2":6.63,"b2":2.29},{"a":6.32,"b":0.19,"a2":6.63,"b2":0.19},{"a":6.32,"b":-1.86,"a2":6.63,"b2":-1.86},{"a":-3.68,"b":-4.38,"a2":-3.5,"b2":-4.4},{"a":-1.74,"b":-4.47,"a2":-1.56,"b2":-4.49},{"a":0.26,"b":-4.55,"a2":0.42,"b2":-4.57},{"a":2.2,"b":-4.65,"a2":2.4,"b2":-4.67},{"a":4.26,"b":-4.67,"a2":4.6,"b2":-4.67},{"a":4.68,"b":-4.48,"a2":4.95,"b2":-4.48},{"a":5.1,"b":-4.29,"a2":5.37,"b2":-4.29},{"a":5.47,"b":-4.14,"a2":5.74,"b2":-4.14},{"a":5.84,"b":-3.95,"a2":6.11,"b2":-3.95},{"a":6.2,"b":-3.76,"a2":6.47,"b2":-3.76}],
"labels":[{"t":"−4","u":-4,"v":-5.62},{"t":"−2","u":-2,"v":-5.71},{"t":"0","u":0,"v":-5.81},{"t":"2","u":2,"v":-5.9},{"t":"2","u":7.47,"v":2.05},{"t":"0","u":7.47,"v":0},{"t":"−2","u":7.2,"v":-1.95}],
"tilted":[{"t":"−2","u":5.2,"v":-5.9},{"t":"−1","u":5.75,"v":-5.6},{"t":"0","u":6.1,"v":-5.35},{"t":"1","u":6.5,"v":-5.15},{"t":"2","u":6.85,"v":-5.1},{"t":"3","u":7.2,"v":-4.9}]},
"hconcat":[
{"width":282,"height":306,
"layer":[
{"data":{"name":"panes"},"transform":[{"filter":"datum.p==='left'"}],"mark":{"type":"area","fill":"#edecf2","stroke":null},"encoding":{"x":{"field":"u","type":"quantitative","scale":{"domain":[-6.263,8.579],"nice":false,"zero":false},"axis":null},"y":{"field":"t","type":"quantitative","scale":{"domain":[-7.429,7.143],"nice":false,"zero":false},"axis":null},"y2":{"field":"b"}}},
{"data":{"name":"panes"},"transform":[{"filter":"datum.p==='back'"}],"mark":{"type":"area","fill":"#e6e6ea","stroke":null},"encoding":{"x":{"field":"u","type":"quantitative","axis":null},"y":{"field":"t","type":"quantitative","axis":null},"y2":{"field":"b"}}},
{"data":{"name":"panes"},"transform":[{"filter":"datum.p==='floor'"}],"mark":{"type":"area","fill":"#ebebf0","stroke":null},"encoding":{"x":{"field":"u","type":"quantitative","axis":null},"y":{"field":"t","type":"quantitative","axis":null},"y2":{"field":"b"}}},
{"data":{"name":"wires"},"mark":{"type":"rule","color":"#ffffff","strokeWidth":1.3},"encoding":{"x":{"field":"a","type":"quantitative","axis":null},"y":{"field":"b","type":"quantitative","axis":null},"x2":{"field":"a2"},"y2":{"field":"b2"}}},
{"data":{"name":"ticks"},"mark":{"type":"rule","color":"#262626","strokeWidth":1.2},"encoding":{"x":{"field":"a","type":"quantitative","axis":null},"y":{"field":"b","type":"quantitative","axis":null},"x2":{"field":"a2"},"y2":{"field":"b2"}}},
{"data":{"name":"left3d"},"mark":{"type":"point","filled":true,"size":66,"opacity":0.88,"stroke":null},"encoding":{"x":{"field":"u","type":"quantitative","axis":null},"y":{"field":"v","type":"quantitative","axis":null},"color":{"field":"c","type":"nominal","scale":{"domain":["A","B","C"],"range":["#8000ff","#80ffb4","#ff0000"]},"legend":null}}},
{"data":{"name":"labels"},"mark":{"type":"text","font":"Liberation Sans","fontSize":15,"color":"#262626"},"encoding":{"x":{"field":"u","type":"quantitative","axis":null},"y":{"field":"v","type":"quantitative","axis":null},"text":{"field":"t"}}},
{"data":{"name":"tilted"},"mark":{"type":"text","font":"Liberation Sans","fontSize":15,"color":"#262626","angle":340},"encoding":{"x":{"field":"u","type":"quantitative","axis":null},"y":{"field":"v","type":"quantitative","axis":null},"text":{"field":"t"}}}
]},
{"width":280,"height":307,"data":{"name":"right2d"},
"mark":{"type":"point","filled":true,"size":104,"opacity":1,"stroke":null},
"encoding":{
"x":{"field":"x","type":"quantitative","scale":{"domain":[-3.44,3.07],"nice":false,"zero":false},"axis":{"title":null,"values":[-2,0,2],"grid":false,"domain":false,"ticks":false,"labelFont":"Liberation Sans","labelFontSize":15,"labelColor":"#262626","labelPadding":8,"format":"d"}},
"y":{"field":"y","type":"quantitative","scale":{"domain":[-2.74,2.31],"nice":false,"zero":false},"axis":{"title":null,"values":[-2,-1,0,1,2],"grid":false,"domain":false,"ticks":false,"labelFont":"Liberation Sans","labelFontSize":15,"labelColor":"#262626","labelPadding":12,"format":"d"}},
"color":{"field":"c","type":"nominal","scale":{"domain":["A","B","C"],"range":["#8000ff","#80ffb4","#ff0000"]},"legend":null}}}
],"resolve":{"scale":{"color":"independent"}}}
